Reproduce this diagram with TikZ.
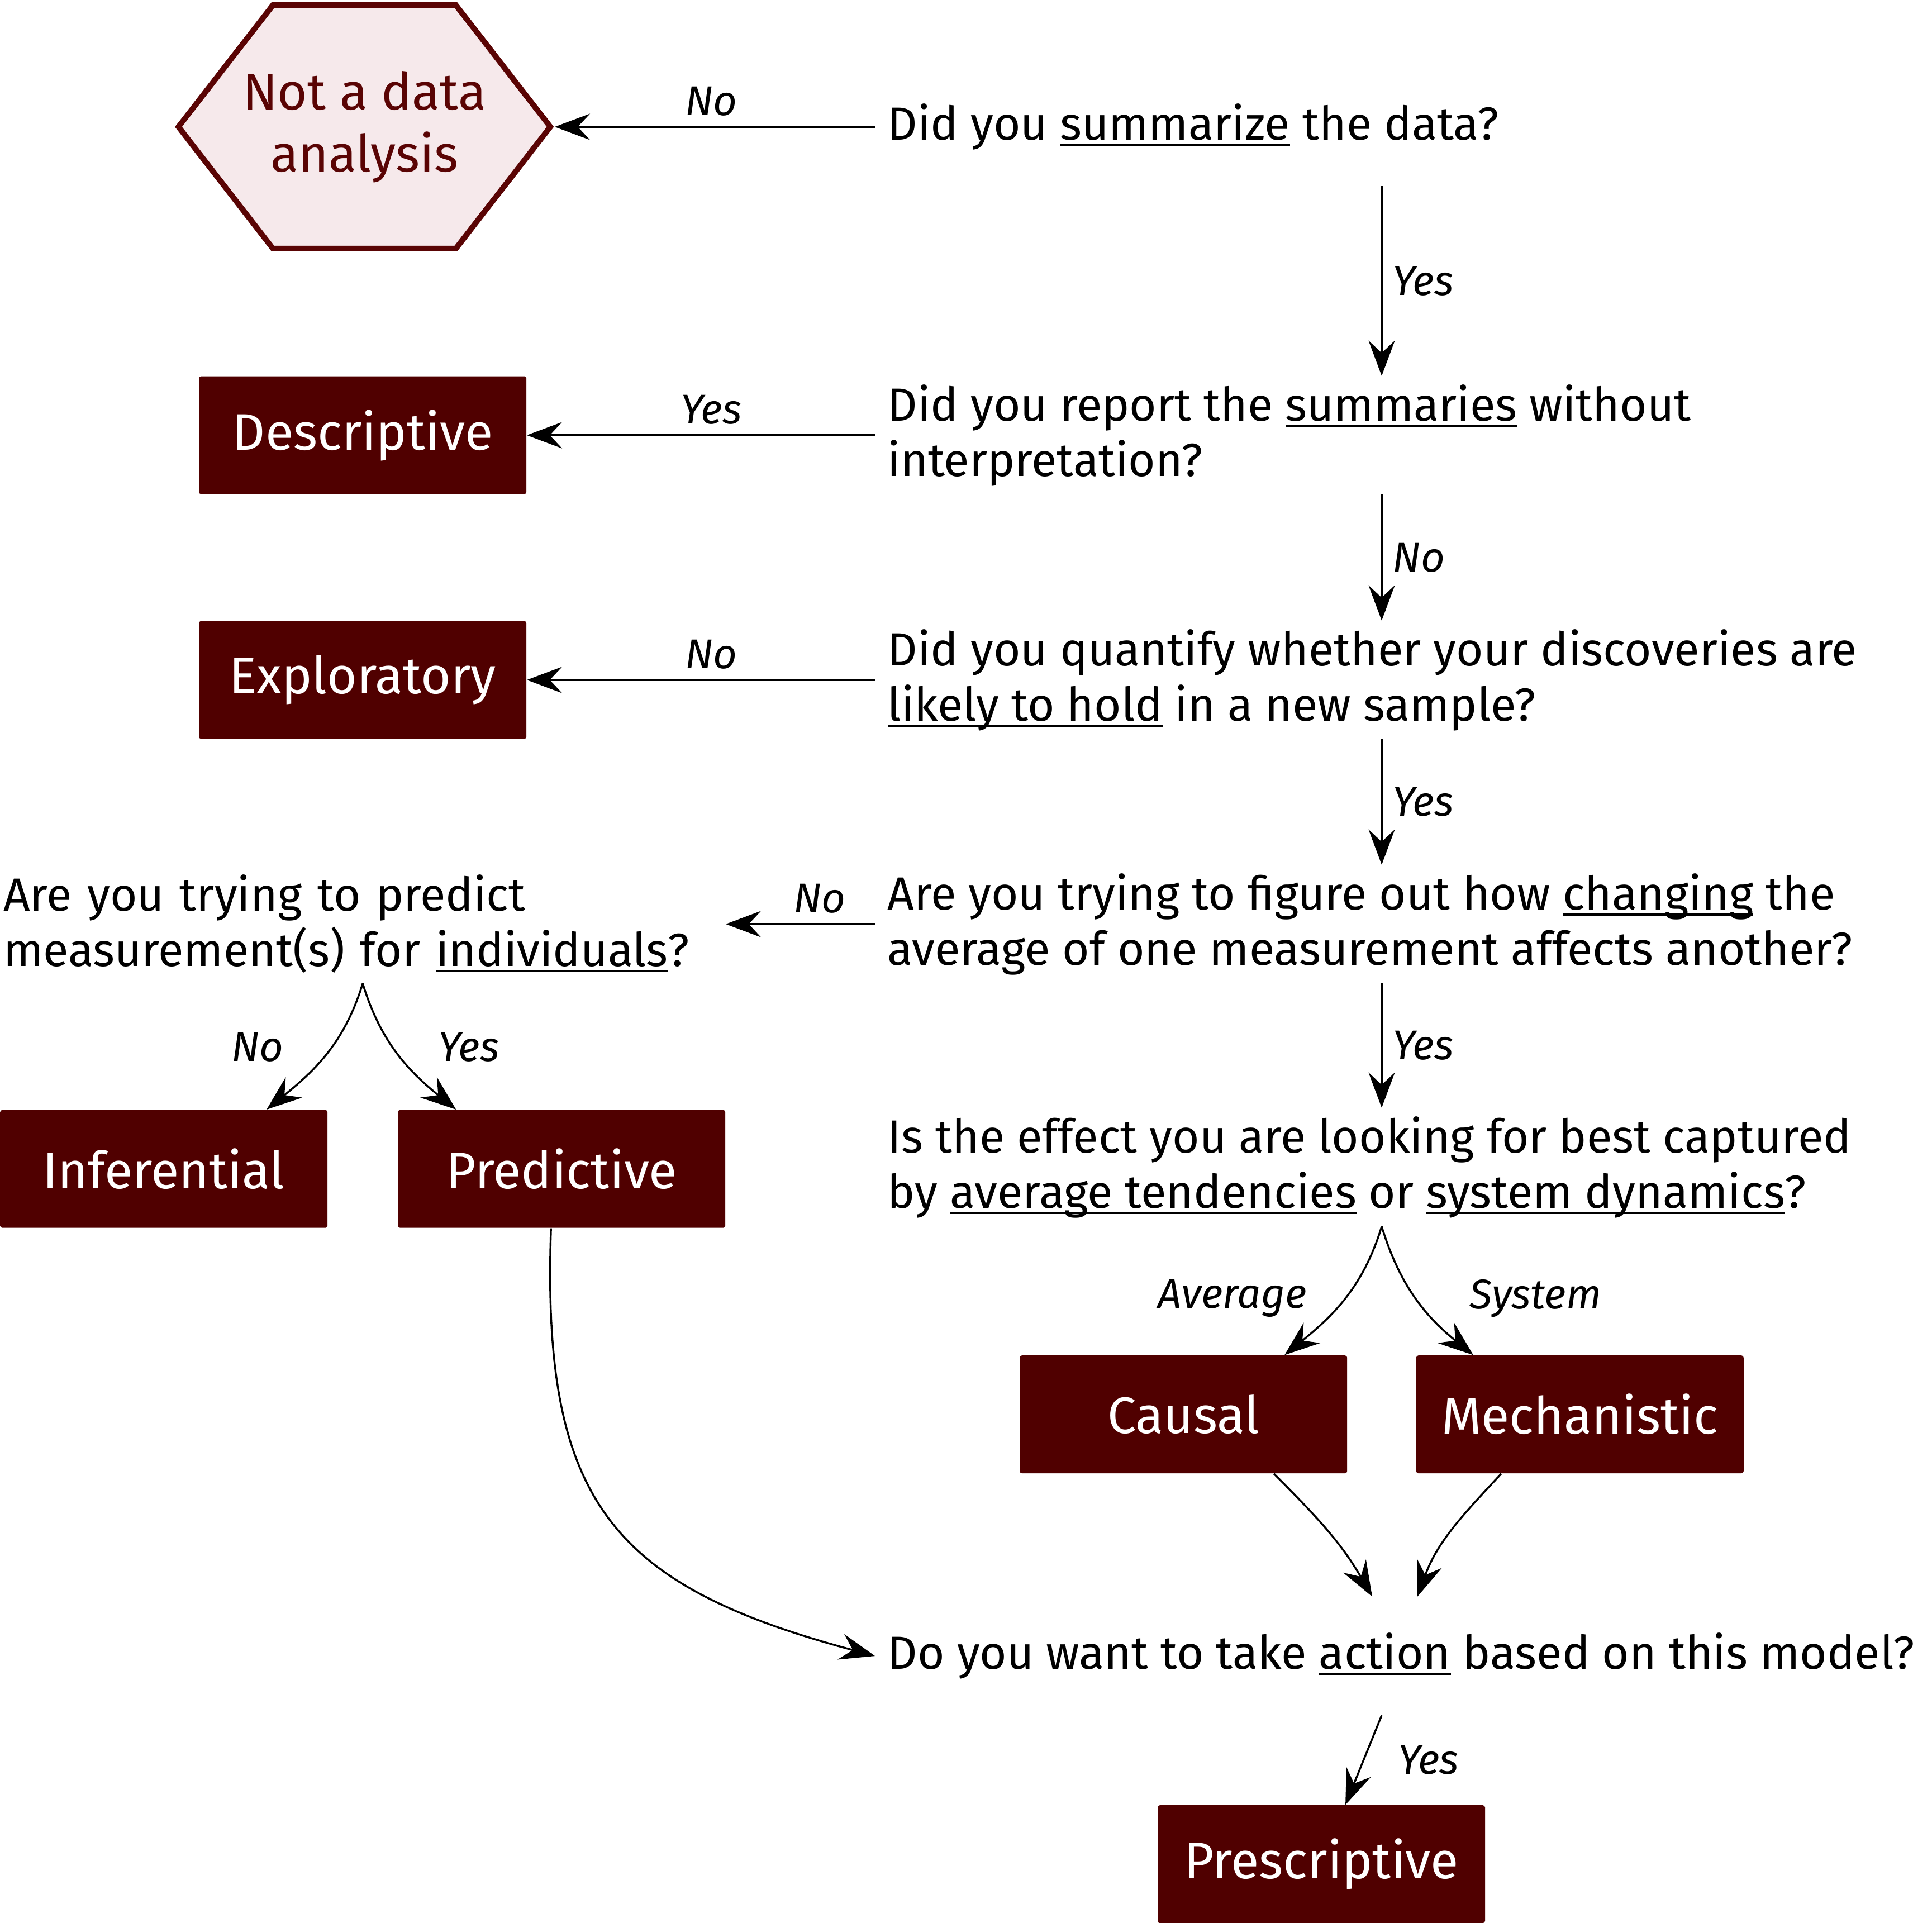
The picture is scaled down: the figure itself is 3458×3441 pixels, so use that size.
\documentclass[tikz,border=0pt]{standalone}
\usepackage{fontspec}
\setmainfont{Fira Sans}
\usepackage{tikz}
\usetikzlibrary{positioning, arrows.meta, backgrounds}
\usepackage{xcolor}

\definecolor{boxred}{RGB}{80,0,0}
\definecolor{hexline}{RGB}{90,4,4}
\definecolor{hexfill}{RGB}{246,233,235}

\newcommand{\qfont}{\fontsize{20.8}{24.75}\selectfont}
\newcommand{\outfont}{\fontsize{23}{27.75}\selectfont}
\newcommand{\lblfont}{\fontsize{18.6}{21}\selectfont\itshape}
% underline that sits just below the baseline
\newcommand{\undl}[1]{\setbox0=\hbox{#1}\rlap{\rule[-2.6pt]{\wd0}{1pt}}\box0\relax}

\begin{document}
\begin{tikzpicture}[x=0.25pt, y=-0.25pt,
  question/.style={anchor=west, align=left, minimum height=52.75pt, inner xsep=5.5pt, inner ysep=0pt, font=\qfont},
  outcome/.style={fill=boxred, text=white, minimum width=146.5pt, minimum height=52.75pt, rounded corners=1pt, font=\outfont},
  hexnode/.style={text=hexline, align=center, minimum width=166pt, minimum height=108.5pt, inner sep=0pt, font=\outfont},
  arr/.style={-{Stealth[length=15.75pt, width=11.75pt, inset=5.5pt]}, line width=0.85pt},
  lbl/.style={font=\lblfont, inner sep=4.5pt}]
\useasboundingbox (0,0) rectangle (3458,3441);
\coordinate (spine) at (2473,0);

% Questions
\node (q1) [question] at (1566,227) {Did you \undl{summarize} the data?};
\node (q2) [question] at (1566,779) {Did you report the \undl{summaries} without\\interpretation?};
\node (q3) [question] at (1566,1217) {Did you quantify whether your discoveries are\\\undl{likely to hold} in a new sample?};
\node (q4) [question] at (1566,1654) {Are you trying to figure out how \undl{changing} the\\average of one measurement affects another?};
\node (q5) [question, text width=321.5pt, inner xsep=1.5pt, left=66.75pt of q4] {Are you trying to predict\\measurement(s) for \undl{individuals}?};
\node (q6) [question] at (1566,2089) {Is the effect you are looking for best captured\\by \undl{average tendencies} or \undl{system dynamics}?};
\node (q7) [question] at (1566,2964) {Do you want to take \undl{action} based on this model?};
\coordinate (fork6) at (q6.south -| spine);
\coordinate (fork7) at (q7.south -| spine);
\coordinate (join7) at (q7.north -| spine);

% Outcomes
\node (nda) [hexnode, left=145.25pt of q1] {Not a data\\analysis};
\node (desc) [outcome, left=155.75pt of q2] {Descriptive};
\node (expl) [outcome, left=155.75pt of q3] {Exploratory};
\node (infer) [outcome, below=56.4pt of q5.south west, anchor=north west] {Inferential};
\node (pred) [outcome, below=56.4pt of q5.south east, anchor=north east] {Predictive};
\node (causal) [outcome, below left=57.5pt and 15.25pt of fork6] {Causal};
\node (mech) [outcome, below right=57.5pt and 15.25pt of fork6] {Mechanistic};
\node (presc) [outcome, below=40pt of fork7, xshift=-27pt] {Prescriptive};

\begin{scope}[on background layer]
\filldraw[draw=hexline, fill=hexfill, line width=2.5pt] (nda.west) -- ([xshift=42.25pt]nda.north west) -- ([xshift=-42.25pt]nda.north east) -- (nda.east) -- ([xshift=-42.25pt]nda.south east) -- ([xshift=42.25pt]nda.south west) -- cycle;
\end{scope}

% Main spine
\draw[arr, shorten >=2pt] (q1.west) -- node[lbl, above, pos=0.504] {No} (nda.east);
\draw[arr] (q1.south -| spine) -- node[lbl, right] {Yes} (q2.north -| spine);
\draw[arr] (q2.west) -- node[lbl, above, pos=0.47] {Yes} (desc.east);
\draw[arr] (q2.south -| spine) -- node[lbl, right] {No} (q3.north -| spine);
\draw[arr] (q3.west) -- node[lbl, above, pos=0.47] {No} (expl.east);
\draw[arr] (q3.south -| spine) -- node[lbl, right] {Yes} (q4.north -| spine);
\draw[arr] (q4.west) -- node[lbl, above, pos=0.37] {No} (q5.east);
\draw[arr] (q4.south -| spine) -- node[lbl, right] {Yes} (q6.north -| spine);

% Branches
\draw[arr] (q5.south) to[out=-107, in=39] node[lbl, left=14pt, yshift=3pt] {No} ([xshift=46pt]infer.north);
\draw[arr] (q5.south) to[out=-73, in=141] node[lbl, right=13pt, yshift=3pt] {Yes} ([xshift=-47.25pt]pred.north);
\draw[arr] (fork6) to[out=-107, in=39] node[lbl, left=12pt] {Average} ([xshift=45.25pt]causal.north);
\draw[arr] (fork6) to[out=-73, in=141] node[lbl, right=19pt] {System} ([xshift=-47.75pt]mech.north);

% Into the action question
\draw[arr] ([xshift=40.5pt]causal.south) to[out=-45, in=120] ([xshift=-4.25pt]join7);
\draw[arr] ([xshift=-35.25pt]mech.south) to[out=-133, in=70] ([xshift=16pt]join7);
\draw[arr] ([xshift=-4.75pt]pred.south) to[out=-92, in=165, looseness=1.3] (q7.west);
\draw[arr] (fork7) -- node[lbl, right=10.5pt] {Yes} (presc);
\end{tikzpicture}
\end{document}
